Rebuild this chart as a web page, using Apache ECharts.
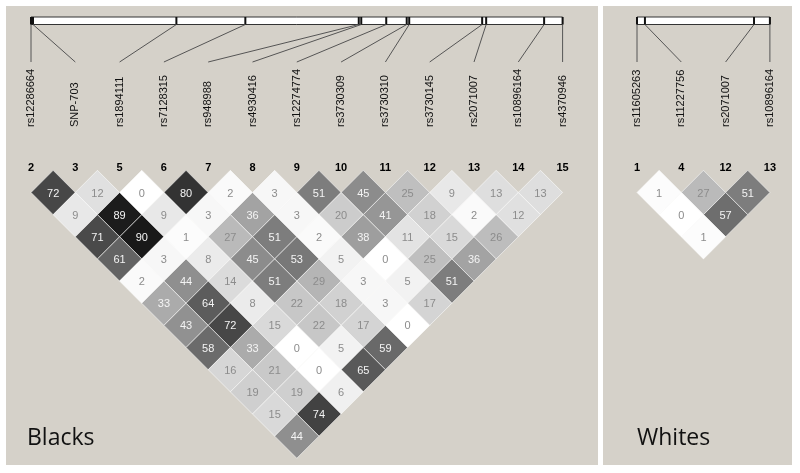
<!DOCTYPE html>
<html><head><meta charset="utf-8">
<script src="https://cdn.jsdelivr.net/npm/echarts@6/dist/echarts.min.js"></script>
<style>html,body{margin:0;padding:0;background:#fff}#c{width:800px;height:473px}</style>
</head><body><div id="c"></div>
<script>
// ---- Blacks panel data ----
const blackIds = [2, 3, 5, 6, 7, 8, 9, 10, 11, 12, 13, 14, 15];
const blackSnps = ['rs12286664', 'SNP-703', 'rs1894111', 'rs7128315', 'rs948988', 'rs4930416',
  'rs12274774', 'rs3730309', 'rs3730310', 'rs3730145', 'rs2071007', 'rs10896164', 'rs4370946'];
// relative physical map positions (arbitrary units along the gene map)
const blackMapPos = [0, 2, 145.5, 214.5, 328, 330.5, 355.5, 376, 378.5, 451.5, 455.5, 513.5, 532];
// r² (x100) by SNP distance: row d holds pairs (k, k+d)
const blackR2d1 = [72, 12, 0, 80, 2, 3, 51, 45, 25, 9, 13, 13];
const blackR2d2 = [9, 89, 9, 3, 36, 3, 20, 41, 18, 2, 12];
const blackR2d3 = [71, 90, 1, 27, 51, 2, 38, 11, 15, 26];
const blackR2d4 = [61, 3, 8, 45, 53, 5, 0, 25, 36];
const blackR2d5 = [2, 44, 14, 51, 29, 3, 5, 51];
const blackR2d6 = [33, 64, 8, 22, 18, 3, 17];
const blackR2d7 = [43, 72, 15, 22, 17, 0];
const blackR2d8 = [58, 33, 0, 5, 59];
const blackR2d9 = [16, 21, 0, 65];
const blackR2d10 = [19, 19, 6];
const blackR2d11 = [15, 74];
const blackR2d12 = [44];

// ---- Whites panel data ----
const whiteIds = [1, 4, 12, 13];
const whiteSnps = ['rs11605263', 'rs11227756', 'rs2071007', 'rs10896164'];
const whiteMapPos = [0, 8, 118, 134];
const whiteR2d1 = [1, 27, 51];
const whiteR2d2 = [0, 57];
const whiteR2d3 = [1];

const blackRows = [blackR2d1, blackR2d2, blackR2d3, blackR2d4, blackR2d5, blackR2d6,
  blackR2d7, blackR2d8, blackR2d9, blackR2d10, blackR2d11, blackR2d12];
const whiteRows = [whiteR2d1, whiteR2d2, whiteR2d3];

// ---- layout constants ----
const ROW_TOP = 170.35, ROW_H = 22.15, COL_W = 44.3;
const BAR_TOP = 17, BAR_BOT = 24.5, LINE_END = 62, LABEL_Y = 127;
const FONT = 'Arial, "Liberation Sans", sans-serif';

function cellData(rows) {
  const out = [];
  rows.forEach((row, d0) => row.forEach((v, k) => out.push([k, k + d0 + 1, v])));
  return out;
}
function mapData(ids, pos) {
  const n = ids.length, lo = pos[0], hi = pos[n - 1];
  return ids.map((id, i) => [i, (pos[i] - lo) / (hi - lo) * (n - 1), id]);
}
function grayOf(v) {
  const g = Math.round(255 * (1 - v / 100));
  return 'rgb(' + g + ',' + g + ',' + g + ')';
}
function renderCell(params, api) {
  const i = api.value(0), j = api.value(1), v = api.value(2);
  const cx = (i + j) / 2, d = j - i;
  const pts = [[cx - 0.5, d], [cx, d - 1], [cx + 0.5, d], [cx, d + 1]].map(p => api.coord(p));
  const c = api.coord([cx, d]);
  return {
    type: 'group',
    children: [
      { type: 'polygon', shape: { points: pts },
        style: { fill: grayOf(v), stroke: 'rgba(255,255,255,0.55)', lineWidth: 1 } },
      { type: 'text', x: c[0], y: c[1] + 1,
        style: { text: String(v), fill: v >= 30 ? '#f4f4f4' : '#8c8c8c', font: '11px ' + FONT,
          align: 'center', verticalAlign: 'middle' } }
    ]
  };
}
function makeMapRenderer(snps, n) {
  return function (params, api) {
    const i = api.value(0), mx = api.value(1), id = api.value(2);
    const colPx = api.coord([i, 0])[0];
    const mapPx = api.coord([mx, 0])[0];
    const numY = api.coord([i, -0.1])[1];
    const children = [];
    if (params.dataIndex === 0) {
      const x0 = api.coord([0, 0])[0], x1 = api.coord([n - 1, 0])[0];
      children.push({ type: 'rect', shape: { x: x0, y: BAR_TOP, width: x1 - x0, height: BAR_BOT - BAR_TOP },
        style: { fill: '#fff', stroke: '#333', lineWidth: 1 } });
    }
    children.push({ type: 'line', shape: { x1: mapPx, y1: BAR_TOP, x2: mapPx, y2: BAR_BOT },
      style: { stroke: '#111', lineWidth: 2 } });
    children.push({ type: 'line', shape: { x1: mapPx, y1: BAR_BOT, x2: colPx, y2: LINE_END },
      style: { stroke: '#555', lineWidth: 1 } });
    children.push({ type: 'text', x: colPx, y: LABEL_Y, rotation: Math.PI / 2,
      style: { text: snps[params.dataIndex], fill: '#111', font: '11px ' + FONT,
        align: 'left', verticalAlign: 'middle' } });
    children.push({ type: 'text', x: colPx, y: numY,
      style: { text: String(id), fill: '#000', font: 'bold 11px ' + FONT,
        align: 'center', verticalAlign: 'middle' } });
    return { type: 'group', children: children };
  };
}

const chart = echarts.init(document.getElementById('c'), null, { renderer: 'canvas' });
const hidden = { show: false };
chart.setOption({
  animation: false,
  backgroundColor: '#ffffff',
  graphic: [
    { type: 'rect', z: -10, shape: { x: 6, y: 6, width: 592, height: 459 }, style: { fill: '#d5d1c9' } },
    { type: 'rect', z: -10, shape: { x: 603, y: 6, width: 189, height: 459 }, style: { fill: '#d5d1c9' } },
    { type: 'text', z: 10, x: 27, y: 438, style: { text: 'Blacks', fill: '#111',
      font: '23px "Open Sans", sans-serif', align: 'left', verticalAlign: 'middle' } },
    { type: 'text', z: 10, x: 637, y: 438, style: { text: 'Whites', fill: '#111',
      font: '23px "Open Sans", sans-serif', align: 'left', verticalAlign: 'middle' } }
  ],
  grid: [
    { left: 31, top: ROW_TOP, width: (blackIds.length - 1) * COL_W, height: 13 * ROW_H },
    { left: 637, top: ROW_TOP, width: (whiteIds.length - 1) * COL_W, height: 13 * ROW_H }
  ],
  xAxis: [
    { gridIndex: 0, type: 'value', min: 0, max: blackIds.length - 1, show: false },
    { gridIndex: 1, type: 'value', min: 0, max: whiteIds.length - 1, show: false }
  ],
  yAxis: [
    { gridIndex: 0, type: 'value', min: 0, max: 13, inverse: true, show: false },
    { gridIndex: 1, type: 'value', min: 0, max: 13, inverse: true, show: false }
  ],
  series: [
    { type: 'custom', xAxisIndex: 0, yAxisIndex: 0, data: cellData(blackRows), renderItem: renderCell, silent: true },
    { type: 'custom', xAxisIndex: 0, yAxisIndex: 0, data: mapData(blackIds, blackMapPos),
      renderItem: makeMapRenderer(blackSnps, blackIds.length), silent: true },
    { type: 'custom', xAxisIndex: 1, yAxisIndex: 1, data: cellData(whiteRows), renderItem: renderCell, silent: true },
    { type: 'custom', xAxisIndex: 1, yAxisIndex: 1, data: mapData(whiteIds, whiteMapPos),
      renderItem: makeMapRenderer(whiteSnps, whiteIds.length), silent: true }
  ]
});
</script></body></html>
